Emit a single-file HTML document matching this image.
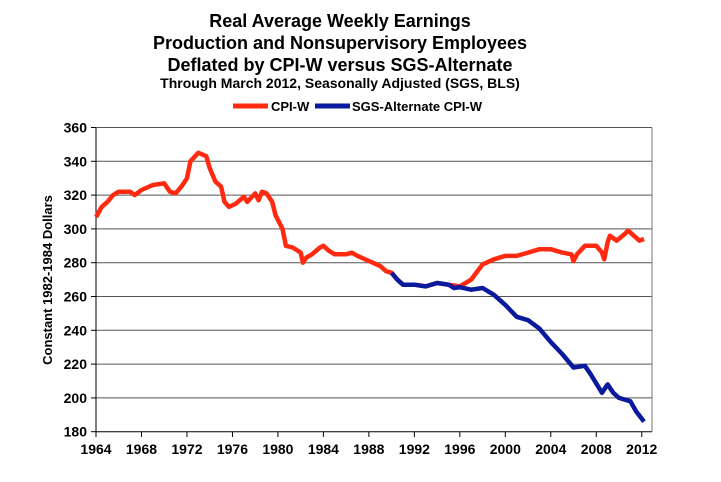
<!DOCTYPE html>
<html><head><meta charset="utf-8"><style>
body{margin:0;background:#fff;}
svg{display:block;font-family:"Liberation Sans",Arial,sans-serif;font-weight:bold;}
</style></head><body>
<svg id="s" width="721" height="482" xmlns="http://www.w3.org/2000/svg">
<rect width="721" height="482" fill="#fff"/>
<g text-anchor="middle" fill="#000">
<text x="340" y="27" font-size="18">Real Average Weekly Earnings</text>
<text x="340" y="49" font-size="18">Production and Nonsupervisory Employees</text>
<text x="340" y="71" font-size="18">Deflated by CPI-W versus SGS-Alternate</text>
<text x="340" y="88" font-size="14">Through March 2012, Seasonally Adjusted (SGS, BLS)</text>
</g>
<line x1="233" y1="106" x2="268" y2="106" stroke="#ff2a10" stroke-width="5"/>
<text x="271" y="111" font-size="13">CPI-W</text>
<line x1="315" y1="106" x2="350" y2="106" stroke="#0a1a9c" stroke-width="5"/>
<text x="352" y="111" font-size="13">SGS-Alternate CPI-W</text>
<g id="grid"></g>
<text transform="translate(52,280) rotate(-90)" text-anchor="middle" font-size="13">Constant 1982-1984 Dollars</text>
<polyline id="red" fill="none" stroke="#ff2a10" stroke-width="4.5" stroke-linejoin="round"/>
<polyline id="blue" fill="none" stroke="#0a1a9c" stroke-width="4.5" stroke-linejoin="round"/>
</svg>
<script>
var X=function(t){return 96+11.37*(t-1964)},Y=function(v){return 127.5+(360-v)*1.69};
var g='';
for(var v=180;v<=360;v+=20){var y=Y(v);
 if(v>180&&v<=360)g+='<line x1="96" x2="652" y1="'+y+'" y2="'+y+'" stroke="#555" stroke-width="1"/>';
 g+='<line x1="91" x2="96" y1="'+y+'" y2="'+y+'" stroke="#000"/>';
 g+='<text x="87" y="'+(y+5)+'" text-anchor="end" font-size="14">'+v+'</text>';}
for(var t=1964;t<=2012;t+=4){var x=X(t);
 g+='<line x1="'+x+'" x2="'+x+'" y1="431.7" y2="437" stroke="#000"/>';
 g+='<text x="'+x+'" y="454" text-anchor="middle" font-size="14">'+t+'</text>';}
g+='<line x1="96" x2="96" y1="127.5" y2="431.7" stroke="#000"/><line x1="96" x2="652" y1="431.7" y2="431.7" stroke="#000"/><line x1="652" x2="652" y1="127.5" y2="431.7" stroke="#777"/>';
document.getElementById('grid').innerHTML=g;
var r=[[1964,307],[1964.5,313],[1965,316],[1965.5,320],[1966,322],[1967,322],[1967.4,320],[1968,323],[1969,326],[1970,327],[1970.5,322],[1971,321],[1971.5,325],[1972,330],[1972.3,340],[1973,345],[1973.7,343],[1974,336],[1974.5,328],[1975,325],[1975.3,316],[1975.7,313],[1976.3,315],[1977,319],[1977.3,316],[1978,321],[1978.3,317],[1978.6,322],[1979,321],[1979.5,316],[1979.8,308],[1980.4,300],[1980.7,290],[1981.3,289],[1982,286],[1982.2,280],[1982.5,283],[1983,285],[1983.7,289],[1984,290],[1984.5,287],[1985,285],[1986,285],[1986.5,286],[1987,284],[1988,281],[1989,278],[1989.5,275],[1990,274],[1990.5,270],[1991,267],[1992,267],[1993,266],[1994,268],[1995,267],[1996,266],[1997,270],[1998,279],[1999,282],[2000,284],[2001,284],[2002,286],[2003,288],[2004,288],[2005,286],[2005.8,285],[2006,281],[2006.3,285],[2007,290],[2008,290],[2008.5,286],[2008.7,282],[2009,292],[2009.2,296],[2009.8,293],[2010.5,297],[2010.8,299],[2011.3,296],[2011.8,293],[2012.2,294]];
var b=[[1990,274],[1990.5,270],[1991,267],[1992,267],[1993,266],[1994,268],[1995,267],[1995.5,265],[1996,265.5],[1997,264],[1998,265],[1999,261],[2000,255],[2001,248],[2002,246],[2003,241],[2004,233],[2005,226],[2006,218],[2007,219],[2007.5,214],[2008.5,203],[2009,208],[2009.5,203],[2010,200],[2011,198],[2011.5,192],[2012.2,186]];
function p(a){return a.map(function(d){return X(d[0]).toFixed(1)+','+Y(d[1]).toFixed(1)}).join(' ')}
document.getElementById('red').setAttribute('points',p(r));
document.getElementById('blue').setAttribute('points',p(b));
</script>
</body></html>
